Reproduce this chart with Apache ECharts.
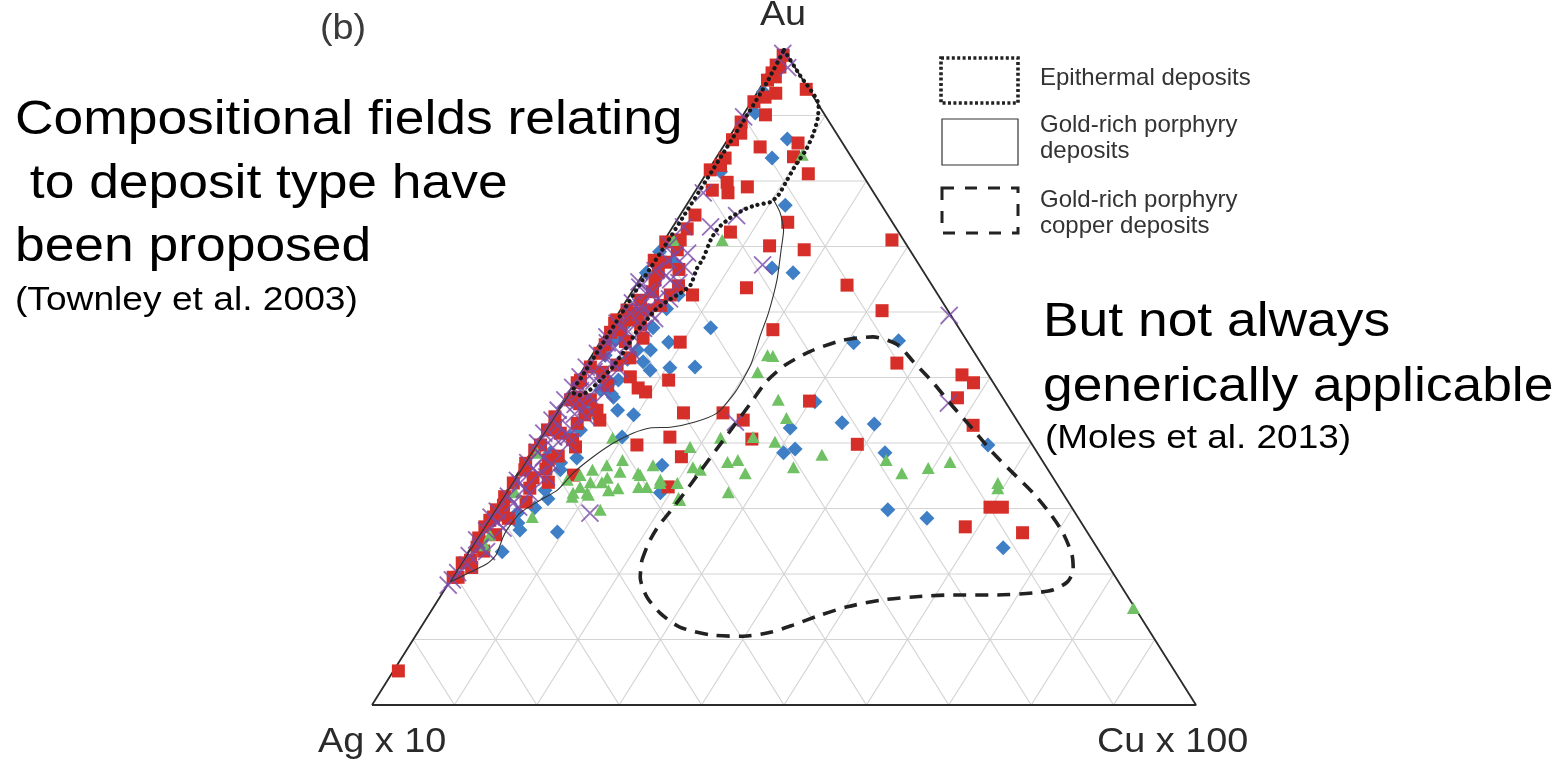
<!DOCTYPE html>
<html><head><meta charset="utf-8">
<script src="https://cdn.jsdelivr.net/npm/echarts@6/dist/echarts.min.js"></script>
<style>html,body{margin:0;padding:0;background:#fff}#c{width:1560px;height:760px}</style>
</head><body><div id="c"></div>
<script>
// Ternary compositions, each point = [Au %, Cu %]  (Ag % = 100 - Au - Cu)
const GRID_STEPS = [10, 20, 30, 40, 50, 60, 70, 80, 90];
const APEX_LABELS = ['Au', 'Ag x 10', 'Cu x 100'];
const LEGEND_LABELS = [['Epithermal deposits'], ['Gold-rich porphyry', 'deposits'], ['Gold-rich porphyry', 'copper deposits']];

const RED = [[99.2,0.3],[97.7,0.2],[97.4,0.8],[96.5,0.3],[95.9,1.0],[95.4,0.3],[94.0,5.7],[93.4,2.3],[92.8,1.3],[92.1,0.3],[90.1,2.7],[89.0,0.3],[87.3,1.1],[86.3,0.6],[85.2,4.5],[85.8,8.8],[83.5,1.1],[83.7,9.3],[82.4,1.1],[81.7,0.2],[81.1,12.4],[79.8,3.2],[79.1,6.0],[78.2,4.1],[78.6,2.0],[74.8,1.8],[73.7,13.6],[72.7,1.9],[72.2,7.4],[71.0,27.6],[71.0,1.9],[70.7,0.3],[70.1,13.2],[69.5,2.3],[69.5,17.7],[67.9,0.3],[67.6,1.8],[66.1,1.7],[64.9,1.9],[64.1,25.6],[63.7,13.6],[63.1,2.5],[62.6,7.6],[62.6,4.9],[61.8,1.7],[60.3,0.8],[60.3,3.3],[60.2,31.8],[59.8,2.4],[58.8,0.3],[58.8,1.9],[58.3,0.3],[57.3,20.0],[57.3,1.5],[56.9,0.5],[56.0,4.9],[55.4,9.7],[55.0,0.8],[53.7,0.8],[52.2,37.6],[51.9,3.8],[51.6,0.7],[50.4,46.4],[50.1,6.3],[49.6,11.2],[49.6,0.5],[49.2,48.4],[49.2,0.3],[48.4,8.1],[47.8,9.3],[47.0,1.4],[46.9,47.6],[46.6,0.8],[46.6,3.2],[46.4,29.9],[45.0,4.8],[44.6,15.5],[44.6,20.3],[44.3,3.7],[44.0,0.2],[43.5,23.3],[43.5,5.9],[42.7,51.6],[42.7,0.9],[42.0,0.3],[41.5,2.1],[40.9,15.7],[40.6,25.8],[39.8,39.0],[39.7,12.3],[39.7,0.6],[39.4,5.0],[38.9,0.3],[37.9,18.6],[37.4,2.7],[36.9,0.2],[35.9,0.6],[35.1,6.9],[34.7,2.2],[33.9,0.2],[33.3,19.3],[33.1,2.6],[31.8,0.2],[30.5,0.7],[30.2,59.9],[30.2,61.4],[29.8,0.2],[29.3,0.5],[28.7,0.4],[28.5,2.3],[28.2,0.2],[27.2,58.4],[27.2,0.1],[26.3,65.8],[25.5,0.2],[24.1,0.7],[22.1,0.9],[21.7,0.1],[19.5,0.7],[19.5,0.1],[5.2,0.6],
[66.5,4.0],[64.0,5.2],[61.0,4.5],[58.0,3.6],[55.5,3.0],[53.0,4.8],[50.8,2.6],[48.8,4.2],[46.0,2.2],[43.0,3.4],[40.5,4.1],[38.0,3.6],[36.0,3.1],[34.0,4.4],[31.0,3.2],[29.0,1.4],[26.0,2.0],[23.5,1.8],[21.0,1.6]];

const BLUE = [[95.9,0.3],[93.6,0.7],[90.4,1.3],[86.4,7.2],[83.5,6.8],[81.4,1.6],[76.3,12.0],[69.2,0.3],[67.6,2.8],[66.7,15.2],[66.0,18.1],[66.0,0.3],[62.6,5.9],[58.0,1.7],[57.6,5.3],[57.6,12.3],[55.7,1.7],[55.6,36.1],[55.4,8.3],[55.3,30.8],[54.2,5.1],[54.2,6.7],[53.4,1.6],[52.4,6.7],[51.6,13.4],[51.5,10.4],[51.1,8.2],[49.6,5.1],[49.2,4.3],[48.1,3.7],[47.0,5.8],[46.3,30.6],[45.5,3.7],[45.0,7.3],[44.3,9.6],[43.1,35.5],[42.9,39.5],[42.3,29.6],[42.0,4.3],[40.9,9.9],[40.9,3.6],[39.7,54.9],[39.1,31.8],[38.5,30.7],[38.5,2.4],[38.5,43.0],[37.7,6.0],[36.6,16.9],[35.9,4.9],[32.8,4.6],[32.4,18.8],[30.1,4.7],[29.8,47.7],[29.3,3.0],[28.5,53.1],[26.7,4.6],[26.4,9.3],[25.2,0.8],[24.0,64.6],[23.4,4.1],
[60.5,5.5],[52.8,4.6],[47.5,5.3],[43.8,5.6],[37.0,4.4],[31.5,5.6],[27.8,3.8]];

const GREEN = [[84.0,10.2],[71.0,1.1],[71.0,7.0],[53.4,21.3],[53.3,22.0],[50.8,21.4],[46.6,26.0],[43.8,28.4],[40.9,25.8],[40.8,8.8],[40.8,21.9],[40.2,28.8],[39.4,18.9],[38.5,0.8],[38.2,35.5],[37.4,11.7],[37.4,25.7],[37.4,43.7],[37.1,24.6],[37.1,51.6],[36.6,10.2],[36.6,15.8],[36.3,20.8],[36.3,33.0],[36.2,49.4],[35.9,8.8],[35.9,21.9],[35.6,12.3],[35.4,14.6],[35.4,27.6],[35.4,46.6],[35.1,7.7],[35.1,15.0],[34.7,11.2],[34.4,6.5],[34.4,17.8],[34.0,10.9],[34.0,9.5],[33.9,20.1],[33.9,18.0],[33.9,59.0],[33.3,16.7],[33.3,15.7],[33.3,8.6],[33.1,13.3],[33.1,59.4],[32.8,12.3],[32.5,27.0],[32.5,1.1],[32.4,8.2],[32.4,9.9],[32.1,10.2],[31.8,8.4],[31.6,21.4],[31.3,21.7],[29.8,12.8],[28.7,5.1],[26.0,1.3],[24.4,1.5],[14.8,85.0]];

const PURPLE = [[99.5,0.1],[97.3,1.8],[89.8,0.2],[78.2,1.1],[73.0,1.3],[73.0,4.6],[74.7,6.9],[67.2,13.8],[67.9,2.0],[64.9,3.8],[64.6,0.1],[63.1,1.9],[62.1,3.7],[60.0,2.6],[59.8,1.4],[59.8,3.9],[59.5,40.3],[46.1,46.9],[43.2,22.5],[29.3,11.8],[19.1,0.2],[18.3,0.1],
[70.2,1.0],[68.6,2.4],[66.3,1.2],[65.5,2.9],[63.8,0.6],[62.9,2.6],[61.4,0.9],[60.8,2.2],[58.3,0.6],[57.7,1.3],[57.0,2.6],[56.2,0.4],[55.3,0.9],[54.6,2.1],[53.7,0.5],[53.0,1.8],[52.3,3.1],[51.6,0.2],[50.9,1.5],[50.1,0.2],[49.5,2.2],[48.5,0.1],[48.0,1.3],[47.2,2.8],[46.6,0.1],[45.9,1.7],[45.0,0.1],[44.4,2.4],[43.5,0.1],[42.8,1.2],[42.2,3.0],[41.5,0.1],[40.9,1.6],[40.0,0.1],[39.3,2.3],[38.6,0.8],[37.8,1.9],[37.0,0.4],[36.1,1.5],[35.2,2.6],[34.3,0.5],[33.9,1.0],[33.0,2.0],[31.9,0.6],[30.8,1.7],[29.6,0.4],[28.7,0.1],[27.9,1.3],[26.6,0.6],[25.2,0.1],[24.1,1.1],[22.8,0.4],[21.4,0.9],[20.2,0.3],[55.0,3.5],[50.5,3.4],[45.5,3.2],[41.0,3.3],
[69.0,3.8],[66.9,4.5],[64.5,5.0],[62.0,5.1],[59.0,4.8],[57.5,4.2],[54.0,4.5],[51.3,4.3],[48.8,3.6],[47.6,4.4],[44.0,4.0],[39.8,3.9],[36.8,3.4],[34.8,3.8],[32.3,3.0],[30.2,2.7],[27.0,2.4],[23.4,2.2]];

// Field outlines (Townley et al. 2003), [Au %, Cu %]
const EPITHERMAL = [[100,0],[96.2,3.8],[91.6,8.4],[89.6,9.3],[87.0,10.0],[84.7,10.3],[82.4,10.2],[80.2,10.3],[77.9,10.4],[76.8,10.0],[76.3,8.4],[75.6,7.3],[74.4,6.3],[72.8,5.6],[71.0,5.6],[68.2,6.1],[66.7,6.1],[64.1,6.6],[62.9,6.0],[61.8,5.1],[60.3,4.2],[58.5,3.9],[56.9,3.6],[54.2,3.6],[51.6,3.4],[49.6,2.9],[48.1,2.4],[47.3,1.6],[47.8,0.4],[50,0.4],[55,0.4],[60,0.4],[65,0.4],[70,0.5],[75,0.5],[80,0.5],[85,0.5],[90,0.5],[95,0.4],[100,0]];
const PORPHYRY_AU = [[77.1,10.2],[75.1,12.0],[72.5,13.7],[69.5,14.9],[64.9,16.7],[59.8,18.2],[56.5,18.9],[51.9,20.0],[47.8,20.2],[44.6,19.6],[43.2,17.6],[42.4,15.0],[42.3,12.6],[41.5,10.9],[40.0,9.3],[37.9,7.9],[35.4,6.7],[32.8,6.1],[31.3,4.8],[29.3,3.3],[26.7,3.0],[25.6,3.1],[22.9,3.6],[21.6,3.2],[20.3,1.8],[19.4,0.8],[18.8,0.1],[47.8,0.2]];
const PORPHYRY_CU = [[22.1,21.7],[24.7,21.2],[27.2,21.1],[29.5,21.4],[32.1,21.7],[35.7,22.0],[39.1,22.3],[42.4,22.6],[46.0,22.9],[49.5,23.2],[51.9,24.2],[54.0,26.2],[55.7,29.3],[56.2,32.7],[55.0,36.3],[52.4,39.5],[49.2,43.5],[45.5,47.8],[42.0,52.0],[38.5,56.1],[35.4,60.1],[32.4,64.0],[29.3,67.6],[26.3,70.7],[22.9,73.5],[20.6,74.8],[18.8,75.0],[17.6,73.9],[17.1,71.7],[16.8,67.5],[16.8,62.1],[16.5,57.4],[16.0,53.7],[15.0,50.2],[13.7,47.5],[12.2,45.0],[11.1,42.8],[10.5,39.8],[10.7,35.7],[11.9,31.4],[14.0,28.0],[16.5,25.1],[19.5,22.8],[22.1,21.7]];

function xy(p) { return [p[1] + p[0] / 2, p[0]]; }

const series = [];
GRID_STEPS.forEach(function (v) {
  [[[v, 0], [v, 100 - v]], [[0, v], [100 - v, v]], [[0, 100 - v], [100 - v, 0]]].forEach(function (seg) {
    series.push({ type: 'line', data: seg.map(xy), symbol: 'none', silent: true, z: 1,
      lineStyle: { color: '#d4d4d4', width: 1.2 } });
  });
});
series.push({ type: 'line', data: [[0,0],[0,100],[100,0],[0,0]].map(xy), symbol: 'none', silent: true, z: 2,
  lineStyle: { color: '#2b2b2b', width: 1.8 } });

function scatter(data, symbol, size, color, z) {
  return { type: 'scatter', data: data.map(xy), symbol: symbol, symbolSize: size, z: z,
    itemStyle: { color: color, opacity: 1 } };
}
series.push(scatter(BLUE, 'diamond', 15, '#3f7fc6', 3));
series.push(scatter(RED, 'rect', 13, '#d62f29', 4));
series.push(scatter(GREEN, 'triangle', [13, 12], '#70c163', 5));
series.push({ type: 'scatter', data: PURPLE.map(xy), symbol: 'path://M0,0L10,10M10,0L0,10', symbolSize: 17, z: 6,
  itemStyle: { color: 'rgba(0,0,0,0)', borderColor: '#7a4aa8', borderWidth: 1.8 } });

series.push({ type: 'line', data: PORPHYRY_AU.map(xy), symbol: 'none', silent: true, z: 7, smooth: 0.2,
  lineStyle: { color: '#333', width: 1.1 } });
series.push({ type: 'line', data: EPITHERMAL.map(xy), symbol: 'none', silent: true, z: 8, smooth: 0.2,
  lineStyle: { color: '#1a1a1a', width: 4.2, type: [0.1, 6], cap: 'round' } });
series.push({ type: 'line', data: PORPHYRY_CU.map(xy), symbol: 'none', silent: true, z: 8, smooth: 0.25,
  lineStyle: { color: '#222', width: 3.6, type: [13, 9] } });

function txt(s, x, yBase, fs, opts) {
  opts = opts || {};
  return { type: 'text', x: x, y: yBase - 0.23 * fs, scaleX: opts.sx || 1, z: 100,
    style: { text: s, font: 'normal ' + fs + 'px "Liberation Sans", Arial, sans-serif',
      fill: opts.c || '#000', textAlign: opts.a || 'left', textVerticalAlign: 'middle' } };
}

const graphic = [
  txt('(b)', 320, 37, 35, { sx: 1.08, c: '#3a3a3a' }),
  txt(APEX_LABELS[0], 783, 23, 35, { sx: 1.08, c: '#2a2a2a', a: 'center' }),
  txt(APEX_LABELS[1], 318, 750, 35, { sx: 1.08, c: '#2a2a2a' }),
  txt(APEX_LABELS[2], 1097, 750, 35, { sx: 1.08, c: '#2a2a2a' }),
  txt('Compositional fields relating', 15, 132, 48, { sx: 1.112 }),
  txt(' to deposit type have', 15, 196, 48, { sx: 1.112 }),
  txt('been proposed', 15, 259, 48, { sx: 1.112 }),
  txt('(Townley et al. 2003)', 15, 308, 33, { sx: 1.126 }),
  txt('But not always', 1043, 334, 48, { sx: 1.112 }),
  txt('generically applicable', 1043, 399, 48, { sx: 1.112 }),
  txt('(Moles et al. 2013)', 1045, 446, 33, { sx: 1.12 }),
  { type: 'rect', shape: { x: 941, y: 58, width: 77, height: 45 }, z: 100,
    style: { fill: 'none', stroke: '#222', lineWidth: 3.6, lineDash: [3, 2.4] } },
  { type: 'rect', shape: { x: 942, y: 119, width: 76, height: 46 }, z: 100,
    style: { fill: 'none', stroke: '#333', lineWidth: 1.2 } },
  { type: 'rect', shape: { x: 942, y: 188, width: 76, height: 45 }, z: 100,
    style: { fill: 'none', stroke: '#222', lineWidth: 3, lineDash: [12, 11] } },
  txt(LEGEND_LABELS[0][0], 1040, 84, 24, { c: '#333' }),
  txt(LEGEND_LABELS[1][0], 1040, 131, 24, { c: '#333' }),
  txt(LEGEND_LABELS[1][1], 1040, 157, 24, { c: '#333' }),
  txt(LEGEND_LABELS[2][0], 1040, 206, 24, { c: '#333' }),
  txt(LEGEND_LABELS[2][1], 1040, 232, 24, { c: '#333' })
];

const chart = echarts.init(document.getElementById('c'), null, { renderer: 'canvas' });
chart.setOption({
  animation: false,
  backgroundColor: '#fff',
  grid: { left: 372, right: 364, top: 50, bottom: 55 },
  xAxis: { type: 'value', min: 0, max: 100, show: false },
  yAxis: { type: 'value', min: 0, max: 100, show: false },
  series: series,
  graphic: graphic
});
</script></body></html>
